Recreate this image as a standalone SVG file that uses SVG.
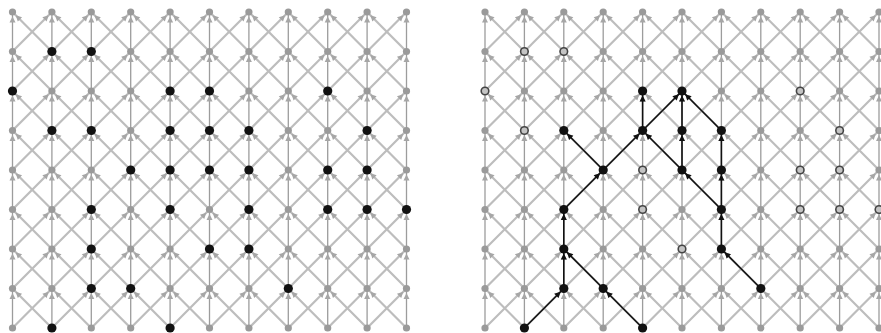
<svg xmlns="http://www.w3.org/2000/svg" xmlns:xlink="http://www.w3.org/1999/xlink" width="881" height="333" viewBox="0 0 881 333">
<style>
.dg{fill:none;stroke:#bdbdbd;stroke-width:2.2;marker-mid:url(#ag);marker-end:url(#ag)}
.vt{fill:none;stroke:#9c9c9c;stroke-width:1.3;marker-mid:url(#ag);marker-end:url(#ag)}
.nd{fill:none;stroke:none;marker-start:url(#dot);marker-mid:url(#dot);marker-end:url(#dot)}
.bk{fill:#111}
.ho{fill:#c4c4c4;stroke:#444;stroke-width:1.6}
.pe{stroke:#111;stroke-width:1.6;marker-end:url(#ak)}
</style>
<defs>
<marker id="ag" markerUnits="userSpaceOnUse" orient="auto" overflow="visible" markerWidth="1" markerHeight="1"><path d="M-4.5,0 L-10.5,-3 L-10.5,3 Z" fill="#a6a6a6"/></marker>
<marker id="ak" markerUnits="userSpaceOnUse" orient="auto" overflow="visible" markerWidth="1" markerHeight="1"><path d="M-4.5,0 L-10.5,-3 L-10.5,3 Z" fill="#111"/></marker>
<marker id="dot" markerUnits="userSpaceOnUse" overflow="visible" markerWidth="1" markerHeight="1"><circle r="3.6" fill="#9a9a9a"/></marker>
<g id="diag">
<polyline points="0,39.5 39.4,0"/>
<polyline points="0,79 39.4,39.5 78.8,0"/>
<polyline points="0,118.5 39.4,79 78.8,39.5 118.2,0"/>
<polyline points="0,158 39.4,118.5 78.8,79 118.2,39.5 157.6,0"/>
<polyline points="0,197.5 39.4,158 78.8,118.5 118.2,79 157.6,39.5 197,0"/>
<polyline points="0,237 39.4,197.5 78.8,158 118.2,118.5 157.6,79 197,39.5 236.4,0"/>
<polyline points="0,276.5 39.4,237 78.8,197.5 118.2,158 157.6,118.5 197,79 236.4,39.5 275.8,0"/>
<polyline points="0,316 39.4,276.5 78.8,237 118.2,197.5 157.6,158 197,118.5 236.4,79 275.8,39.5 315.2,0"/>
<polyline points="39.4,316 78.8,276.5 118.2,237 157.6,197.5 197,158 236.4,118.5 275.8,79 315.2,39.5 354.6,0"/>
<polyline points="78.8,316 118.2,276.5 157.6,237 197,197.5 236.4,158 275.8,118.5 315.2,79 354.6,39.5 394,0"/>
<polyline points="118.2,316 157.6,276.5 197,237 236.4,197.5 275.8,158 315.2,118.5 354.6,79 394,39.5"/>
<polyline points="157.6,316 197,276.5 236.4,237 275.8,197.5 315.2,158 354.6,118.5 394,79"/>
<polyline points="197,316 236.4,276.5 275.8,237 315.2,197.5 354.6,158 394,118.5"/>
<polyline points="236.4,316 275.8,276.5 315.2,237 354.6,197.5 394,158"/>
<polyline points="275.8,316 315.2,276.5 354.6,237 394,197.5"/>
<polyline points="315.2,316 354.6,276.5 394,237"/>
<polyline points="354.6,316 394,276.5"/>
<polyline points="394,39.5 354.6,0"/>
<polyline points="394,79 354.6,39.5 315.2,0"/>
<polyline points="394,118.5 354.6,79 315.2,39.5 275.8,0"/>
<polyline points="394,158 354.6,118.5 315.2,79 275.8,39.5 236.4,0"/>
<polyline points="394,197.5 354.6,158 315.2,118.5 275.8,79 236.4,39.5 197,0"/>
<polyline points="394,237 354.6,197.5 315.2,158 275.8,118.5 236.4,79 197,39.5 157.6,0"/>
<polyline points="394,276.5 354.6,237 315.2,197.5 275.8,158 236.4,118.5 197,79 157.6,39.5 118.2,0"/>
<polyline points="394,316 354.6,276.5 315.2,237 275.8,197.5 236.4,158 197,118.5 157.6,79 118.2,39.5 78.8,0"/>
<polyline points="354.6,316 315.2,276.5 275.8,237 236.4,197.5 197,158 157.6,118.5 118.2,79 78.8,39.5 39.4,0"/>
<polyline points="315.2,316 275.8,276.5 236.4,237 197,197.5 157.6,158 118.2,118.5 78.8,79 39.4,39.5 0,0"/>
<polyline points="275.8,316 236.4,276.5 197,237 157.6,197.5 118.2,158 78.8,118.5 39.4,79 0,39.5"/>
<polyline points="236.4,316 197,276.5 157.6,237 118.2,197.5 78.8,158 39.4,118.5 0,79"/>
<polyline points="197,316 157.6,276.5 118.2,237 78.8,197.5 39.4,158 0,118.5"/>
<polyline points="157.6,316 118.2,276.5 78.8,237 39.4,197.5 0,158"/>
<polyline points="118.2,316 78.8,276.5 39.4,237 0,197.5"/>
<polyline points="78.8,316 39.4,276.5 0,237"/>
<polyline points="39.4,316 0,276.5"/>
</g>
<g id="vert">
<polyline points="0,316 0,276.5 0,237 0,197.5 0,158 0,118.5 0,79 0,39.5 0,0"/>
<polyline points="39.4,316 39.4,276.5 39.4,237 39.4,197.5 39.4,158 39.4,118.5 39.4,79 39.4,39.5 39.4,0"/>
<polyline points="78.8,316 78.8,276.5 78.8,237 78.8,197.5 78.8,158 78.8,118.5 78.8,79 78.8,39.5 78.8,0"/>
<polyline points="118.2,316 118.2,276.5 118.2,237 118.2,197.5 118.2,158 118.2,118.5 118.2,79 118.2,39.5 118.2,0"/>
<polyline points="157.6,316 157.6,276.5 157.6,237 157.6,197.5 157.6,158 157.6,118.5 157.6,79 157.6,39.5 157.6,0"/>
<polyline points="197,316 197,276.5 197,237 197,197.5 197,158 197,118.5 197,79 197,39.5 197,0"/>
<polyline points="236.4,316 236.4,276.5 236.4,237 236.4,197.5 236.4,158 236.4,118.5 236.4,79 236.4,39.5 236.4,0"/>
<polyline points="275.8,316 275.8,276.5 275.8,237 275.8,197.5 275.8,158 275.8,118.5 275.8,79 275.8,39.5 275.8,0"/>
<polyline points="315.2,316 315.2,276.5 315.2,237 315.2,197.5 315.2,158 315.2,118.5 315.2,79 315.2,39.5 315.2,0"/>
<polyline points="354.6,316 354.6,276.5 354.6,237 354.6,197.5 354.6,158 354.6,118.5 354.6,79 354.6,39.5 354.6,0"/>
<polyline points="394,316 394,276.5 394,237 394,197.5 394,158 394,118.5 394,79 394,39.5 394,0"/>
</g>
<g id="lat">
<use xlink:href="#diag" class="dg"/>
<use xlink:href="#vert" class="vt"/>
<use xlink:href="#vert" class="nd"/>
</g>
</defs>

<g id="lattice-left" transform="translate(12.5,12)">
<use xlink:href="#lat"/>
<g id="points-left">
<circle class="bk" r="4.6" cx="39.4" cy="39.5"/><circle class="bk" r="4.6" cx="78.8" cy="39.5"/>
<circle class="bk" r="4.6" cx="0" cy="79"/><circle class="bk" r="4.6" cx="157.6" cy="79"/><circle class="bk" r="4.6" cx="197" cy="79"/><circle class="bk" r="4.6" cx="315.2" cy="79"/>
<circle class="bk" r="4.6" cx="39.4" cy="118.5"/><circle class="bk" r="4.6" cx="78.8" cy="118.5"/><circle class="bk" r="4.6" cx="157.6" cy="118.5"/><circle class="bk" r="4.6" cx="197" cy="118.5"/><circle class="bk" r="4.6" cx="236.4" cy="118.5"/><circle class="bk" r="4.6" cx="354.6" cy="118.5"/>
<circle class="bk" r="4.6" cx="118.2" cy="158"/><circle class="bk" r="4.6" cx="157.6" cy="158"/><circle class="bk" r="4.6" cx="197" cy="158"/><circle class="bk" r="4.6" cx="236.4" cy="158"/><circle class="bk" r="4.6" cx="315.2" cy="158"/><circle class="bk" r="4.6" cx="354.6" cy="158"/>
<circle class="bk" r="4.6" cx="78.8" cy="197.5"/><circle class="bk" r="4.6" cx="157.6" cy="197.5"/><circle class="bk" r="4.6" cx="236.4" cy="197.5"/><circle class="bk" r="4.6" cx="315.2" cy="197.5"/><circle class="bk" r="4.6" cx="354.6" cy="197.5"/><circle class="bk" r="4.6" cx="394" cy="197.5"/>
<circle class="bk" r="4.6" cx="78.8" cy="237"/><circle class="bk" r="4.6" cx="197" cy="237"/><circle class="bk" r="4.6" cx="236.4" cy="237"/>
<circle class="bk" r="4.6" cx="78.8" cy="276.5"/><circle class="bk" r="4.6" cx="118.2" cy="276.5"/><circle class="bk" r="4.6" cx="275.8" cy="276.5"/>
<circle class="bk" r="4.6" cx="39.4" cy="316"/><circle class="bk" r="4.6" cx="157.6" cy="316"/>
</g>
</g>

<g id="lattice-right" transform="translate(485,12)">
<use xlink:href="#lat"/>
<g id="connectors">
<line class="pe" x1="39.4" y1="316" x2="78.8" y2="276.5"/>
<line class="pe" x1="157.6" y1="316" x2="118.2" y2="276.5"/>
<line class="pe" x1="118.2" y1="276.5" x2="78.8" y2="237"/>
<line class="pe" x1="78.8" y1="276.5" x2="78.8" y2="237"/>
<line class="pe" x1="78.8" y1="237" x2="78.8" y2="197.5"/>
<line class="pe" x1="78.8" y1="197.5" x2="118.2" y2="158"/>
<line class="pe" x1="118.2" y1="158" x2="78.8" y2="118.5"/>
<line class="pe" x1="118.2" y1="158" x2="157.6" y2="118.5"/>
<line class="pe" x1="157.6" y1="118.5" x2="157.6" y2="79"/>
<line class="pe" x1="157.6" y1="118.5" x2="197" y2="79"/>
<line class="pe" x1="236.4" y1="118.5" x2="197" y2="79"/>
<line class="pe" x1="197" y1="118.5" x2="197" y2="79"/>
<line class="pe" x1="197" y1="158" x2="197" y2="118.5"/>
<line class="pe" x1="197" y1="158" x2="157.6" y2="118.5"/>
<line class="pe" x1="236.4" y1="197.5" x2="197" y2="158"/>
<line class="pe" x1="236.4" y1="197.5" x2="236.4" y2="158"/>
<line class="pe" x1="236.4" y1="158" x2="236.4" y2="118.5"/>
<line class="pe" x1="236.4" y1="237" x2="236.4" y2="197.5"/>
<line class="pe" x1="275.8" y1="276.5" x2="236.4" y2="237"/>
</g>
<g id="points-right">
<circle class="ho" r="3.8" cx="39.4" cy="39.5"/><circle class="ho" r="3.8" cx="78.8" cy="39.5"/>
<circle class="ho" r="3.8" cx="0" cy="79"/><circle class="bk" r="4.6" cx="157.6" cy="79"/><circle class="bk" r="4.6" cx="197" cy="79"/><circle class="ho" r="3.8" cx="315.2" cy="79"/>
<circle class="ho" r="3.8" cx="39.4" cy="118.5"/><circle class="bk" r="4.6" cx="78.8" cy="118.5"/><circle class="bk" r="4.6" cx="157.6" cy="118.5"/><circle class="bk" r="4.6" cx="197" cy="118.5"/><circle class="bk" r="4.6" cx="236.4" cy="118.5"/><circle class="ho" r="3.8" cx="354.6" cy="118.5"/>
<circle class="bk" r="4.6" cx="118.2" cy="158"/><circle class="ho" r="3.8" cx="157.6" cy="158"/><circle class="bk" r="4.6" cx="197" cy="158"/><circle class="bk" r="4.6" cx="236.4" cy="158"/><circle class="ho" r="3.8" cx="315.2" cy="158"/><circle class="ho" r="3.8" cx="354.6" cy="158"/>
<circle class="bk" r="4.6" cx="78.8" cy="197.5"/><circle class="ho" r="3.8" cx="157.6" cy="197.5"/><circle class="bk" r="4.6" cx="236.4" cy="197.5"/><circle class="ho" r="3.8" cx="315.2" cy="197.5"/><circle class="ho" r="3.8" cx="354.6" cy="197.5"/><circle class="ho" r="3.8" cx="394" cy="197.5"/>
<circle class="bk" r="4.6" cx="78.8" cy="237"/><circle class="ho" r="3.8" cx="197" cy="237"/><circle class="bk" r="4.6" cx="236.4" cy="237"/>
<circle class="bk" r="4.6" cx="78.8" cy="276.5"/><circle class="bk" r="4.6" cx="118.2" cy="276.5"/><circle class="bk" r="4.6" cx="275.8" cy="276.5"/>
<circle class="bk" r="4.6" cx="39.4" cy="316"/><circle class="bk" r="4.6" cx="157.6" cy="316"/>
</g>
</g>
</svg>
